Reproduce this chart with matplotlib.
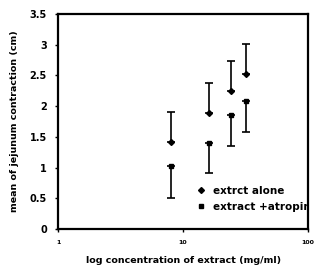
import matplotlib
matplotlib.use("Agg")
import matplotlib.pyplot as plt
from matplotlib.lines import Line2D

# концентрации экстракта (mg/ml)
conc = [8, 16, 24, 32]

alone_mean = [1.42, 1.89, 2.25, 2.52]
alone_err = [0.49, 0.49, 0.49, 0.49]

atropine_mean = [1.03, 1.40, 1.86, 2.08]
atropine_err = [0.52, 0.49, 0.51, 0.50]

yticks = [0, 0.5, 1, 1.5, 2, 2.5, 3, 3.5]
ytick_labels = ["0", "0.5", "1", "1.5", "2", "2.5", "3", "3.5"]
xticks = [1, 10, 100]
xtick_labels = ["1", "10", "100"]
legend_labels = ["extrct alone", "extract +atropine"]

plt.rcParams["font.family"] = "DejaVu Sans"
plt.rcParams["font.weight"] = "bold"

fig = plt.figure(figsize=(3.17, 2.70), dpi=100)
ax = fig.add_axes([0.183, 0.152, 0.789, 0.796])

ax.errorbar(conc, alone_mean, yerr=[[0] * 4, alone_err], fmt="D", color="black",
            markersize=3, elinewidth=1.2, capsize=3, capthick=1.2)
ax.errorbar(conc, atropine_mean, yerr=[atropine_err, [0] * 4], fmt="s", color="black",
            markersize=3.5, elinewidth=1.2, capsize=3, capthick=1.2)

ax.set_xscale("log")
ax.set_xlim(1, 100)
ax.set_ylim(0, 3.5)
ax.set_xticks(xticks)
ax.set_xticklabels(xtick_labels, fontsize=4.5, fontweight="bold")
ax.minorticks_off()
ax.set_yticks(yticks)
ax.set_yticklabels(ytick_labels, fontsize=7, fontweight="bold")
ax.tick_params(axis="both", length=2, width=1, direction="out", pad=6)

for sp in ax.spines.values():
    sp.set_linewidth(1.6)

ax.set_xlabel("log concentration of extract (mg/ml)", fontsize=6.8, fontweight="bold", labelpad=8)
ax.set_ylabel("mean of jejunum contraction (cm)", fontsize=6.8, fontweight="bold", labelpad=8)

handles = [Line2D([], [], marker="D", color="black", linestyle="none", markersize=3),
           Line2D([], [], marker="s", color="black", linestyle="none", markersize=3.5)]
leg = ax.legend(handles, legend_labels, loc="lower left", bbox_to_anchor=(0.54, 0.06),
                frameon=False, fontsize=7.5, handletextpad=0.7, labelspacing=0.6,
                handlelength=0.8, borderaxespad=0)
for t in leg.get_texts():
    t.set_clip_path(ax.patch)

fig.savefig("out.png", dpi=100)
